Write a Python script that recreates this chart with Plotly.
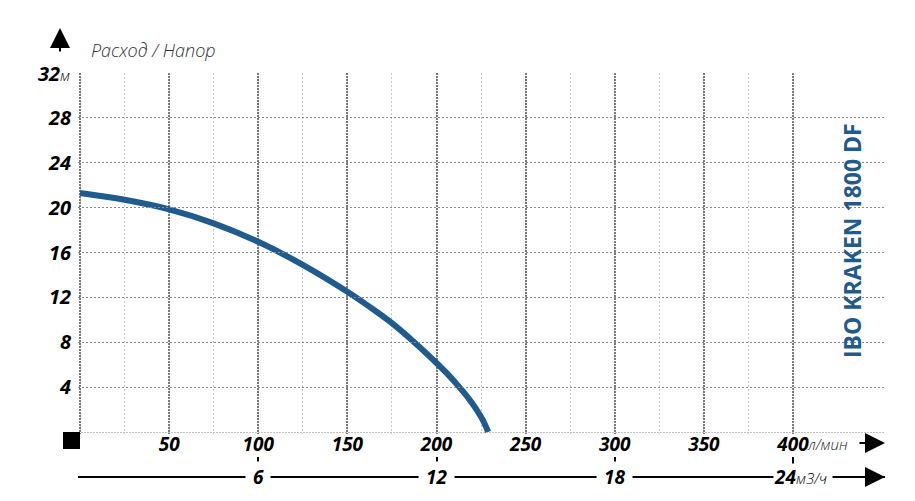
import plotly.graph_objects as go

# ---- data ----
flow_lpm = [0, 25, 50, 75, 100, 125, 150, 162.5, 175, 187.5, 200, 206, 212.8, 218, 222, 226, 229]
head_m = [21.3, 20.7, 19.85, 18.6, 16.95, 14.9, 12.5, 11.15, 9.7, 8.0, 6.15, 5.2, 4.0, 3.0, 2.1, 1.05, 0]

x_ticks = [0, 50, 100, 150, 200, 250, 300, 350, 400]
x_tick_labels = ["", "50", "100", "150", "200", "250", "300", "350", "400"]
x_minor_step = 25
y_ticks = [0, 4, 8, 12, 16, 20, 24, 28, 32]
y_tick_labels = ["", "4", "8", "12", "16", "20", "24", "28", "32"]
m3h_ticks = [6, 12, 18, 24]
m3h_labels = ["6", "12", "18", "24"]
unit_lpm = "л/мин"
unit_m3h = "м3/ч"
unit_m = "м"
axis_caption = "Расход / Напор"
model_title = "IBO KRAKEN 1800 DF"

# ---- geometry (pixels) ----
W, H = 915, 501
X0, X1 = 80, 793      # pixel of flow 0 / 400
Y0, Y1 = 432, 73      # pixel of head 0 / 32
PAD = 2               # keep edge gridlines inside the plot area
ML, MR, MT, MB = X0 - PAD, 30, Y1, 24
PW, PH = W - ML - MR, H - MT - MB
x_dom_end = (X1 + PAD - ML) / PW
y_dom_start = (MT + PH - (Y0 + PAD)) / PH
xs = (x_ticks[-1] - x_ticks[0]) / (X1 - X0)
ys = (y_ticks[-1] - y_ticks[0]) / (Y0 - Y1)
x2s = m3h_ticks[-1] / (X1 - X0)

BLUE = "#1f5b8c"
FONT = "Open Sans"
xlab_font = dict(family=FONT, size=19, color="black", weight=700, style="italic")
ylab_font = dict(family=FONT, size=20, color="black", weight=700, style="italic")


def py(px):  # pixel y -> paper y
    return (MT + PH - px) / PH


def pxp(px):  # pixel x -> paper x
    return (px - ML) / PW


fig = go.Figure()
fig.add_trace(go.Scatter(
    x=m3h_ticks, y=[0] * len(m3h_ticks), xaxis="x2", yaxis="y", mode="markers",
    marker=dict(opacity=0), hoverinfo="skip", showlegend=False))
fig.add_trace(go.Scatter(
    x=flow_lpm, y=head_m, mode="lines", line=dict(color=BLUE, width=6, shape="spline", smoothing=1),
    hoverinfo="skip", showlegend=False, cliponaxis=False))

ann = []
for v, t in zip(m3h_ticks, m3h_labels):
    if v == m3h_ticks[-1]:
        ann.append(dict(xref="x2", yref="paper", x=v, y=0, xanchor="left", yanchor="middle",
                        xshift=-20, showarrow=False, bgcolor="white", borderpad=0,
                        text=f"{t}<span style='font-size:15px;font-weight:300'>{unit_m3h}</span> ",
                        font=xlab_font))
    else:
        ann.append(dict(xref="x2", yref="paper", x=v, y=0, xanchor="center", yanchor="middle",
                        showarrow=False, bgcolor="white", borderpad=2, text=f" {t} ",
                        font=xlab_font))
# unit after 400
ann.append(dict(xref="x", yref="paper", x=x_ticks[-1], y=py(444), xanchor="left", yanchor="middle",
                xshift=12, showarrow=False, text=unit_lpm,
                font=dict(family=FONT, size=15, color="#222", weight=300, style="italic")))
# arrows
arrow_common = dict(showarrow=True, arrowhead=2, arrowsize=2.0, arrowwidth=2, arrowcolor="black",
                    text="", standoff=0, startstandoff=0)
ann.append(dict(xref="paper", yref="paper", x=1, y=py(443), ax=-27, ay=0, **arrow_common))
ann.append(dict(xref="paper", yref="paper", x=1, y=0, ax=-24, ay=0, **arrow_common))
ann.append(dict(xref="paper", yref="paper", x=pxp(60), y=py(28), ax=0, ay=25, **arrow_common))
# caption
ann.append(dict(xref="paper", yref="paper", x=pxp(89), y=py(50), xanchor="left", yanchor="middle",
                showarrow=False, text=axis_caption,
                font=dict(family=FONT, size=18, color="#333", weight=300, style="italic")))
# 32 m label
ann.append(dict(xref="paper", yref="y", x=pxp(X0), y=y_ticks[-1], xanchor="right", yanchor="middle",
                xshift=-8, showarrow=False,
                text=f"{y_tick_labels[-1]}<span style='font-size:15px;font-weight:300'>{unit_m}</span>",
                font=ylab_font))
# title
ann.append(dict(xref="paper", yref="paper", x=pxp(852), y=py(241), xanchor="center", yanchor="middle",
                textangle=-90, showarrow=False, text=f"<b>{model_title}</b>",
                font=dict(family=FONT, size=23, color=BLUE, weight=700)))

# origin marker square (decoration)
shapes = [dict(type="rect", xref="paper", yref="paper", x0=pxp(63), x1=pxp(80),
               y0=py(449), y1=py(432), fillcolor="black", line=dict(width=0), layer="above")]

fig.update_layout(
    width=W, height=H, margin=dict(l=ML, r=MR, t=MT, b=MB),
    paper_bgcolor="white", plot_bgcolor="rgba(0,0,0,0)", showlegend=False,
    xaxis=dict(domain=[0, x_dom_end], range=[x_ticks[0] - PAD * xs, x_ticks[-1] + PAD * xs], anchor="y",
               tickvals=x_ticks, ticktext=x_tick_labels, tickfont=xlab_font, ticks="",
               showgrid=True, gridcolor="#7a7a7a", gridwidth=2, griddash="2px,1px",
               minor=dict(dtick=x_minor_step, tick0=0, showgrid=True, gridcolor="#c8c8c8",
                          gridwidth=1, griddash="2px,2px"),
               zeroline=False, showline=False, ticklabelstandoff=-3),
    yaxis=dict(domain=[y_dom_start, 1], range=[y_ticks[0] - PAD * ys, y_ticks[-1]], anchor="x",
               tickvals=y_ticks[1:-1], ticktext=y_tick_labels[1:-1], tickfont=ylab_font, ticks="",
               showgrid=True, gridcolor="#8a8a8a", gridwidth=1, griddash="2px,2px",
               minor=dict(tickvals=[y_ticks[0]], showgrid=True, gridcolor="#c0c0c0",
                          gridwidth=1, griddash="2px,1px"),
               zeroline=False, showline=False, ticklabelstandoff=6),
    xaxis2=dict(domain=[0, 1], range=[-PAD * x2s, (W - MR - X0) * x2s], anchor="free", position=0,
                side="bottom", showline=True, linecolor="black", linewidth=2, ticks="inside",
                ticklen=19, tickwidth=2, tickcolor="black", tickvals=m3h_ticks,
                showticklabels=False, showgrid=False, zeroline=False),
    annotations=ann,
    shapes=shapes,
)
fig.write_html("out.html", config={"displayModeBar": False},
               post_script="document.body.style.margin='0';")
